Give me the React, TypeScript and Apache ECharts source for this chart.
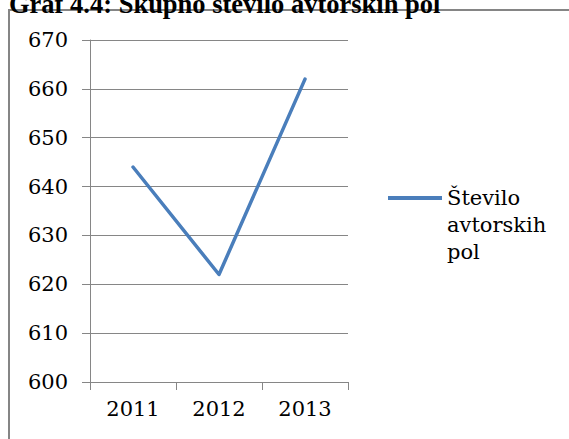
import React, { useEffect, useRef } from "react";
import * as echarts from "echarts";

const categories = ["2011", "2012", "2013"];
const seriesName = "Število avtorskih pol";
const values = [644, 622, 662];
const yMin = 600;
const yMax = 670;
const yInterval = 10;
const titleText = "Graf 4.4: Skupno število avtorskih pol";

export default function App() {
  const ref = useRef<HTMLDivElement>(null);
  useEffect(() => {
    if (!ref.current) return;
    const chart = echarts.init(ref.current, null, { renderer: "svg" });
    const bodyFont = "DejaVu Serif";
    chart.setOption({
      animation: false,
      backgroundColor: "#ffffff",
      title: {
        text: titleText,
        left: 9,
        top: -10,
        padding: 0,
        textStyle: { fontFamily: "Liberation Serif", fontWeight: "bold", fontSize: 26.5, color: "#000" },
      },
      graphic: [
        {
          type: "rect",
          shape: { x: 9, y: 10, width: 620, height: 500 },
          style: { fill: "none", stroke: "#858585", lineWidth: 2 },
          silent: true,
        },
      ],
      grid: { left: 90, right: 221, top: 40, bottom: 57 },
      legend: {
        left: 388,
        top: 130.5,
        padding: 0,
        icon: "rect",
        itemWidth: 54,
        itemHeight: 4,
        formatter: (name: string) => "\n\n" + name.split(" ").join("\n"),
        textStyle: { fontFamily: bodyFont, fontSize: 21, lineHeight: 27, color: "#000" },
        data: [seriesName],
      },
      xAxis: {
        type: "category",
        data: categories,
        boundaryGap: true,
        axisLine: { lineStyle: { color: "#868686", width: 1 } },
        axisTick: { show: true, length: 8, alignWithLabel: false, lineStyle: { color: "#868686" } },
        axisLabel: { fontFamily: bodyFont, fontSize: 21, color: "#000", margin: 16 },
        splitLine: { show: false },
      },
      yAxis: {
        type: "value",
        min: yMin,
        max: yMax,
        interval: yInterval,
        axisLine: { show: true, lineStyle: { color: "#868686", width: 1 } },
        axisTick: { show: true, length: 8, lineStyle: { color: "#868686" } },
        axisLabel: { fontFamily: bodyFont, fontSize: 21, color: "#000", margin: 22 },
        splitLine: { show: true, lineStyle: { color: "#868686", width: 1 } },
      },
      series: [
        {
          name: seriesName,
          type: "line",
          data: values,
          symbol: "none",
          showSymbol: false,
          lineStyle: { color: "#4A7EBB", width: 3.5, cap: "round", join: "round" },
          itemStyle: { color: "#4A7EBB" },
        },
      ],
    });
    return () => chart.dispose();
  }, []);
  return (
    <div
      ref={ref}
      style={{ position: "absolute", left: 0, top: 0, width: 569, height: 439 }}
    />
  );
}
